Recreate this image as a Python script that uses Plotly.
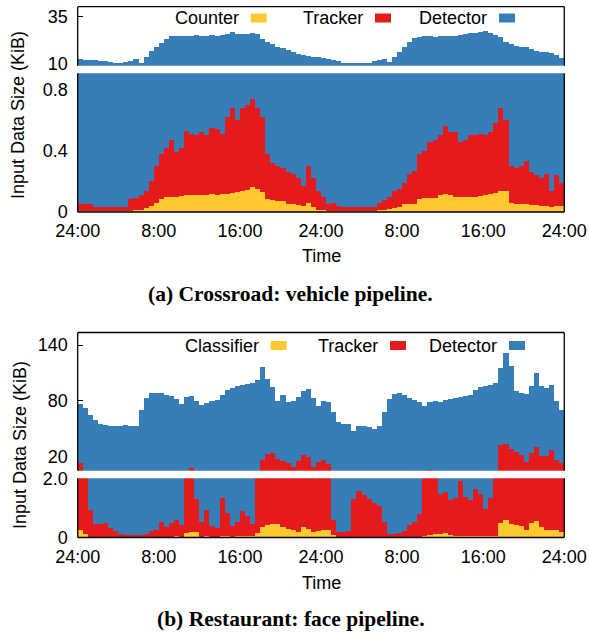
import plotly.graph_objects as go

W, H = 589, 636

# ---------------- data ----------------
time_ticks = [0, 8, 16, 24, 32, 40, 48]
time_labels = ["24:00", "8:00", "16:00", "24:00", "8:00", "16:00", "24:00"]
time_bins = [i * 0.5 + 0.25 for i in range(96)]  # half-hour bins over 48 h

# (a) Crossroad: vehicle pipeline  (KiB)
crossroad_counter = [
    0.004, 0.004, 0.004, 0.004, 0.004, 0.004, 0.004, 0.004, 0.004, 0.004,
    0.008, 0.01, 0.015, 0.025, 0.04, 0.06, 0.085, 0.095, 0.10, 0.10,
    0.105, 0.11, 0.11, 0.11, 0.112, 0.11, 0.115, 0.11, 0.12, 0.12,
    0.125, 0.13, 0.14, 0.145, 0.16, 0.15, 0.13, 0.085, 0.078, 0.075,
    0.07, 0.055, 0.05, 0.045, 0.04, 0.06, 0.035, 0.015, 0.01, 0.008,
    0.004, 0.004, 0.004, 0.004, 0.004, 0.004, 0.004, 0.004, 0.004, 0.01,
    0.015, 0.02, 0.025, 0.035, 0.05, 0.05, 0.055, 0.085, 0.09, 0.09,
    0.09, 0.11, 0.115, 0.11, 0.10, 0.10, 0.10, 0.10, 0.10, 0.105,
    0.11, 0.12, 0.125, 0.14, 0.135, 0.06, 0.05, 0.05, 0.05, 0.045,
    0.045, 0.04, 0.04, 0.035, 0.04, 0.04]
crossroad_tracker = [
    0.051, 0.046, 0.046, 0.031, 0.031, 0.026, 0.026, 0.026, 0.026, 0.026,
    0.077, 0.08, 0.095, 0.115, 0.16, 0.24, 0.295, 0.325, 0.37, 0.29,
    0.315, 0.42, 0.40, 0.39, 0.408, 0.39, 0.435, 0.43, 0.39, 0.50,
    0.555, 0.47, 0.54, 0.555, 0.58, 0.53, 0.49, 0.295, 0.242, 0.225,
    0.22, 0.205, 0.20, 0.175, 0.13, 0.24, 0.185, 0.125, 0.09, 0.042,
    0.056, 0.036, 0.031, 0.031, 0.031, 0.031, 0.031, 0.031, 0.031, 0.05,
    0.065, 0.08, 0.115, 0.115, 0.14, 0.20, 0.215, 0.295, 0.31, 0.37,
    0.38, 0.39, 0.445, 0.41, 0.42, 0.36, 0.37, 0.40, 0.40, 0.405,
    0.39, 0.40, 0.455, 0.54, 0.465, 0.24, 0.24, 0.25, 0.28, 0.215,
    0.195, 0.18, 0.21, 0.105, 0.20, 0.15]
crossroad_detector = [
    12.15, 11.95, 11.75, 11.55, 11.35, 11.05, 10.45, 10.25, 10.35, 10.55,
    10.9, 12.1, 10.3, 13.35, 16.3, 18.7, 20.6, 22.6, 24.3, 24.1,
    24.5, 24.1, 24.3, 24.5, 24.0, 24.4, 24.65, 24.25, 24.8, 25.0,
    26.3, 25.2, 24.8, 25.3, 25.75, 24.8, 22.4, 21.1, 20.2, 18.7,
    17.7, 16.75, 15.75, 14.8, 14.35, 13.7, 13.3, 13.05, 12.7, 12.45,
    11.75, 10.95, 10.35, 10.15, 9.95, 9.95, 10.15, 10.35, 10.95, 11.95,
    12.1, 10.4, 13.35, 15.65, 18.8, 21.35, 23.1, 23.8, 24.1, 24.15,
    23.9, 24.2, 23.95, 24.3, 24.1, 24.75, 25.5, 25.8, 26.0, 26.3,
    26.8, 26.0, 24.6, 23.3, 21.0, 20.2, 19.2, 18.7, 18.2, 17.25,
    16.55, 16.0, 15.55, 15.45, 14.25, 12.9]

# (b) Restaurant: face pipeline  (KiB)
restaurant_classifier = [
    0.24, 0.12, 0.03, 0.02, 0.02, 0.01, 0.02, 0.01, 0.01, 0.02,
    0.01, 0.02, 0.02, 0.02, 0.03, 0.02, 0.03, 0.02, 0.03, 0.04,
    0.03, 0.15, 0.2, 0.2, 0.03, 0.04, 0.03, 0.03, 0.05, 0.04,
    0.03, 0.04, 0.05, 0.04, 0.05, 0.15, 0.35, 0.43, 0.47, 0.45,
    0.35, 0.28, 0.27, 0.2, 0.37, 0.3, 0.2, 0.22, 0.25, 0.24,
    0.1, 0.03, 0.02, 0.01, 0.01, 0.02, 0.02, 0.01, 0.02, 0.02,
    0.02, 0.01, 0.01, 0.02, 0.02, 0.02, 0.03, 0.03, 0.04, 0.1,
    0.12, 0.13, 0.14, 0.08, 0.05, 0.05, 0.06, 0.05, 0.05, 0.06,
    0.05, 0.05, 0.06, 0.5, 0.6, 0.45, 0.42, 0.38, 0.27, 0.5,
    0.55, 0.37, 0.27, 0.27, 0.25, 0.2]
restaurant_tracker = [
    13, 3, 0.9, 0.45, 0.45, 0.48, 0.3, 0.2, 0.12, 0.07,
    0.06, 0.06, 0.08, 0.1, 0.2, 0.25, 0.5, 0.35, 0.45, 0.55,
    0.4, 2.5, 8, 1.1, 0.5, 0.9, 0.35, 0.3, 1.3, 0.8,
    0.35, 0.5, 0.85, 0.7, 0.4, 3.5, 16, 22, 24, 17,
    15, 13, 9, 15, 22, 19, 9, 14, 16, 12,
    0.5, 0.15, 0.15, 0.2, 1.3, 1.55, 1.4, 1.3, 1.15, 1.05,
    0.5, 0.12, 0.1, 0.12, 0.2, 0.4, 0.48, 0.75, 2.5, 6,
    3, 1.35, 1.4, 1.2, 1.3, 1.85, 1.3, 1.2, 1.6, 1.4,
    0.9, 1.3, 3, 32, 33, 28, 25, 22, 14, 24,
    30, 20, 21, 27, 16, 13]
restaurant_detector = [
    63.8, 68.9, 64.1, 59.5, 54.5, 53.5, 53.2, 52.8, 53.4, 53.9,
    53.4, 52.9, 69.9, 82.9, 87.8, 88.7, 87.5, 85.6, 84.5, 81.4,
    76.6, 81.3, 76.8, 78.7, 75.5, 77.1, 79.6, 80.7, 84.7, 91.2,
    93.6, 95.5, 96.1, 97.3, 98.6, 98.3, 99.6, 80.6, 70.5, 62.5,
    70.6, 65.7, 70.7, 68.8, 68.6, 73.7, 73.8, 60.8, 63.7, 66.8,
    67.4, 56.8, 54.8, 54.8, 46.7, 51.4, 51.6, 50.7, 48.8, 51.9,
    67.5, 81.9, 86.9, 87.9, 85.8, 82.6, 80.5, 78.2, 72.5, 72.9,
    76.9, 77.5, 79.5, 80.7, 81.6, 82.1, 83.6, 84.7, 90.3, 93.5,
    95.0, 95.6, 95.9, 82.5, 97.4, 89.5, 65.6, 66.6, 72.7, 71.5,
    79.4, 75.6, 72.7, 69.7, 63.75, 56.8]

# ---------------- style ----------------
YELLOW = "#FFC82F"
RED = "#E41A1C"
BLUE = "#377EB8"
SANS = "Liberation Sans, Arial, sans-serif"
SERIF = "Liberation Serif, Times New Roman, serif"
FS = 18


def px(x):
    return x / W


def py(y):
    return 1 - y / H


X0, X1 = 77.7, 564.3
# panel geometry (pixels)
A_TOP = (6.7, 65.7)
A_BOT = (73.3, 212.0)
B_TOP = (332.5, 470.7)
B_BOT = (478.3, 537.5)

fig = go.Figure()


def add_stack(series, xa, ya):
    for vals, col in series:
        fig.add_trace(go.Bar(
            x=time_bins, y=vals, width=0.5,
            marker=dict(color=col, line=dict(width=0)),
            xaxis=xa, yaxis=ya, showlegend=False, hoverinfo="skip"))


a_series = [(crossroad_counter, YELLOW), (crossroad_tracker, RED), (crossroad_detector, BLUE)]
b_series = [(restaurant_classifier, YELLOW), (restaurant_tracker, RED), (restaurant_detector, BLUE)]
add_stack(a_series, "x", "y")
add_stack(a_series, "x", "y2")
add_stack(b_series, "x2", "y3")
add_stack(b_series, "x2", "y4")

xcommon = dict(domain=[px(X0), px(X1)], range=[0, 48], tickvals=time_ticks,
               ticktext=time_labels, showgrid=False, zeroline=False, showline=False,
               ticks="", tickfont=dict(family=SANS, size=FS, color="black"),
               ticklabelstandoff=6, fixedrange=True)
ycommon = dict(showgrid=False, zeroline=False, showline=False, ticks="inside",
               ticklen=5, tickwidth=1, tickcolor="black", layer="below traces",
               tickfont=dict(family=SANS, size=FS, color="black"),
               ticklabelstandoff=9, fixedrange=True)

fig.update_layout(
    width=W, height=H, margin=dict(l=0, r=0, t=0, b=0),
    template="none", barmode="stack", bargap=0, showlegend=False,
    plot_bgcolor="white", paper_bgcolor="white",
    font=dict(family=SANS, size=FS, color="black"),
    xaxis=dict(anchor="y2", **xcommon),
    xaxis2=dict(anchor="y4", **xcommon),
    yaxis=dict(anchor="x", domain=[py(A_TOP[1]), py(A_TOP[0])], range=[8.7, 40.4],
               tickvals=[10, 35], ticktext=["10", "35"], **ycommon),
    yaxis2=dict(anchor="x", domain=[py(A_BOT[1]), py(A_BOT[0])], range=[0, 0.905],
                tickvals=[0, 0.4, 0.8], ticktext=["0", "0.4", "0.8"], **ycommon),
    yaxis3=dict(anchor="x2", domain=[py(B_TOP[1]), py(B_TOP[0])], range=[5, 153.5],
                tickvals=[20, 80, 140], ticktext=["20", "80", "140"], **ycommon),
    yaxis4=dict(anchor="x2", domain=[py(B_BOT[1]), py(B_BOT[0])], range=[0, 2.0],
                tickvals=[0, 2.0], ticktext=["0", "2.0"], **ycommon),
)

shapes = []


def line(x0, y0, x1, y1, w=1.3):
    shapes.append(dict(type="line", xref="paper", yref="paper",
                       x0=px(x0), y0=py(y0), x1=px(x1), y1=py(y1),
                       line=dict(color="black", width=w), layer="above"))


for top, bot in [(A_TOP, A_BOT), (B_TOP, B_BOT)]:
    line(X0, top[0], X1, top[0])
    line(X0, top[0], X0, top[1])
    line(X1, top[0], X1, top[1])
    line(X0, bot[0], X0, bot[1])
    line(X1, bot[0], X1, bot[1])
    line(X0, bot[1], X1, bot[1])

annotations = []


def legend_item(label, right_x, box_x, yc, color):
    annotations.append(dict(text=label, x=px(right_x), y=py(yc), xref="paper", yref="paper",
                            xanchor="right", yanchor="middle", showarrow=False,
                            font=dict(family=SANS, size=FS, color="black")))
    shapes.append(dict(type="rect", xref="paper", yref="paper",
                       x0=px(box_x), x1=px(box_x + 16), y0=py(yc + 4.5), y1=py(yc - 4.5),
                       fillcolor=color, line=dict(width=0), layer="above"))


legend_item("Counter", 241, 250.7, 18, YELLOW)
legend_item("Tracker", 365, 375.0, 18, RED)
legend_item("Detector", 489, 499.0, 18, BLUE)
legend_item("Classifier", 261, 270.7, 345.5, YELLOW)
legend_item("Tracker", 380, 390.0, 345.5, RED)
legend_item("Detector", 499, 509.0, 345.5, BLUE)


def text(t, x, y, size=FS, family=SANS, angle=0, bold=False):
    annotations.append(dict(text=("<b>%s</b>" % t) if bold else t, x=px(x), y=py(y),
                            xref="paper", yref="paper", xanchor="center", yanchor="middle",
                            showarrow=False, textangle=angle,
                            font=dict(family=family, size=size, color="black")))


text("Input Data Size (KiB)", 18, 115, angle=-90)
text("Input Data Size (KiB)", 20, 445, angle=-90)
text("Time", 321, 256)
text("Time", 321, 583)
text("(a) Crossroad: vehicle pipeline.", 290, 294, size=21.5, family=SERIF, bold=True)
text("(b) Restaurant: face pipeline.", 291, 619, size=21.5, family=SERIF, bold=True)

fig.update_layout(shapes=shapes, annotations=annotations)
fig.write_html(
    "out.html",
    config={"displayModeBar": False, "staticPlot": True},
    post_script="document.body.style.margin='0px';document.body.style.overflow='hidden';",
)
